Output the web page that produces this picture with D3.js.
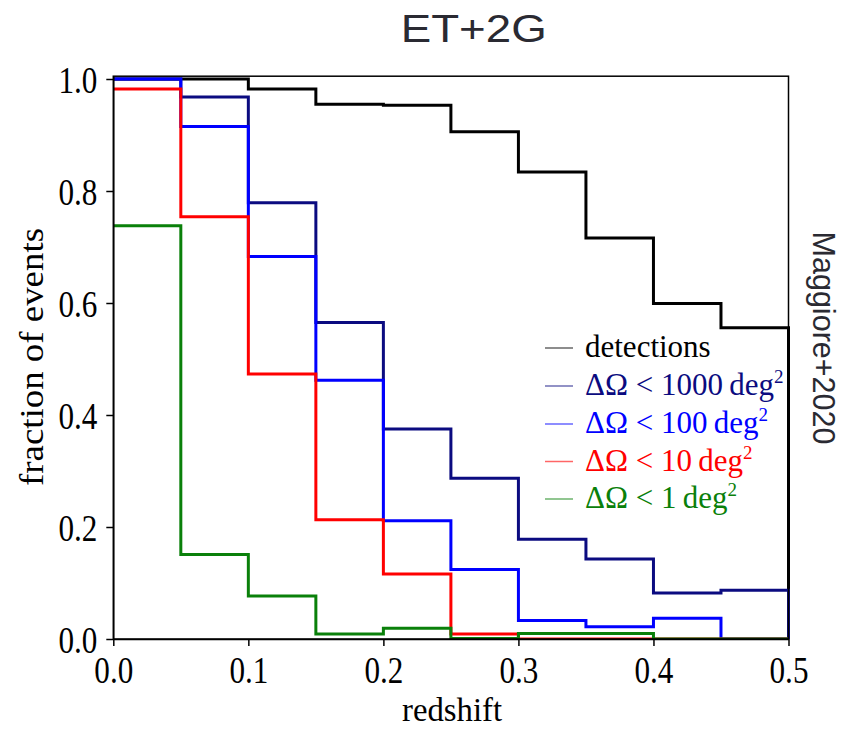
<!DOCTYPE html>
<html>
<head>
<meta charset="utf-8">
<script src="https://cdn.jsdelivr.net/npm/d3@7"></script>
<style>
  html, body { margin: 0; padding: 0; background: #fff; }
  svg { display: block; }
</style>
</head>
<body>
<svg id="chart" width="844" height="729"></svg>
<script>
// ---- data ----
const binEdges = [0, 0.05, 0.1, 0.15, 0.2, 0.25, 0.3, 0.35, 0.4, 0.45, 0.5];
const detections = [1.0, 1.0, 0.982, 0.955, 0.953, 0.906, 0.834, 0.716, 0.599, 0.556];
const dOmega1000 = [1.0, 0.968, 0.779, 0.565, 0.375, 0.287, 0.178, 0.143, 0.082, 0.087];
const dOmega100  = [1.0, 0.915, 0.683, 0.462, 0.211, 0.124, 0.033, 0.022, 0.037, 0.0];
const dOmega10   = [0.982, 0.754, 0.473, 0.213, 0.116, 0.009, 0.0, 0.0, 0.0, 0.0];
const dOmega1    = [0.738, 0.151, 0.077, 0.009, 0.019, 0.001, 0.010, 0.010, 0.0, 0.0];
const seriesNames = ["detections", "1000", "100", "10", "1"];
const xTickValues = [0, 0.1, 0.2, 0.3, 0.4, 0.5];
const yTickValues = [0, 0.2, 0.4, 0.6, 0.8, 1.0];
const titleText = "ET+2G";
const sideText = "Maggiore+2020";
const xLabel = "redshift";
const yLabel = "fraction of events";

const series = [
  { name: "detections", values: detections, color: "#000000", legendColor: "#000000" },
  { name: "1000", values: dOmega1000, color: "#0b0b80", legendColor: "#0b0b80" },
  { name: "100", values: dOmega100, color: "#0000ff", legendColor: "#0000ff" },
  { name: "10", values: dOmega10, color: "#ff0000", legendColor: "#ff0000" },
  { name: "1", values: dOmega1, color: "#0a800a", legendColor: "#0a800a" }
];

// ---- layout ----
const svg = d3.select("#chart");
const pLeft = 113.3, pRight = 788.5, pTop = 76.2, pBottom = 639;
const x = d3.scaleLinear().domain([0, 0.5]).range([pLeft, pRight]);
const y = d3.scaleLinear().domain([0, 1.005]).range([pBottom, pTop]);

const serif = "'Liberation Serif', 'DejaVu Serif', serif";
const sans = "'Liberation Sans', Arial, sans-serif";

// ---- step histograms ----
function stepPath(vals) {
  const pts = [];
  vals.forEach((v, i) => {
    pts.push([binEdges[i], v]);
    pts.push([binEdges[i + 1], v]);
  });
  pts.push([binEdges[binEdges.length - 1], 0]);
  return d3.line().x(d => x(d[0])).y(d => y(d[1]))(pts);
}

svg.append("defs").append("clipPath").attr("id", "clip")
  .append("rect").attr("x", pLeft).attr("y", pTop - 3)
  .attr("width", pRight - pLeft + 4).attr("height", pBottom - pTop + 4);

const lines = svg.append("g").attr("clip-path", "url(#clip)");
series.forEach(s => {
  lines.append("path")
    .attr("d", stepPath(s.values))
    .attr("fill", "none")
    .attr("stroke", s.color)
    .attr("stroke-width", 3)
    .attr("stroke-linejoin", "miter");
});

// ---- frame ----
svg.append("rect")
  .attr("x", pLeft).attr("y", pTop)
  .attr("width", pRight - pLeft).attr("height", pBottom - pTop)
  .attr("fill", "none").attr("stroke", "#000").attr("stroke-width", 1.5);

// ---- axes ----
const xAxis = svg.append("g")
  .attr("transform", `translate(0,${pBottom})`)
  .call(d3.axisBottom(x).tickValues(xTickValues).tickFormat(d3.format(".1f")).tickSize(7).tickSizeOuter(0));
xAxis.select(".domain").attr("stroke-width", 1.5);
xAxis.selectAll(".tick line").attr("stroke-width", 1.5);
xAxis.selectAll(".tick text")
  .attr("font-family", serif).attr("font-size", 38).attr("fill", "#000")
  .attr("y", 44).attr("dy", null)
  .attr("transform", "scale(0.82,1)");

const yAxis = svg.append("g")
  .attr("transform", `translate(${pLeft},0)`)
  .call(d3.axisLeft(y).tickValues(yTickValues).tickFormat(d3.format(".1f")).tickSize(7).tickSizeOuter(0));
yAxis.select(".domain").attr("stroke-width", 1.5);
yAxis.selectAll(".tick line").attr("stroke-width", 1.5);
yAxis.selectAll(".tick text")
  .attr("font-family", serif).attr("font-size", 38).attr("fill", "#000")
  .attr("x", -16 / 0.82).attr("dy", null).attr("y", 13.5)
  .attr("transform", "scale(0.82,1)");

// ---- labels ----
svg.append("text")
  .attr("x", 452).attr("y", 721)
  .attr("text-anchor", "middle")
  .attr("font-family", serif).attr("font-size", 34)
  .attr("textLength", 100).attr("lengthAdjust", "spacingAndGlyphs")
  .text(xLabel);

svg.append("text")
  .attr("transform", "translate(43,357) rotate(-90)")
  .attr("text-anchor", "middle")
  .attr("font-family", serif).attr("font-size", 34)
  .attr("textLength", 258).attr("lengthAdjust", "spacingAndGlyphs")
  .text(yLabel);

svg.append("text")
  .attr("x", 473.7).attr("y", 41.7)
  .attr("text-anchor", "middle")
  .attr("font-family", sans).attr("font-size", 38.5).attr("fill", "#2a2a32")
  .attr("textLength", 146).attr("lengthAdjust", "spacingAndGlyphs")
  .text(titleText);

svg.append("text")
  .attr("transform", "translate(813,338) rotate(90)")
  .attr("text-anchor", "middle")
  .attr("font-family", sans).attr("font-size", 30.5).attr("fill", "#2a2a32")
  .attr("textLength", 213).attr("lengthAdjust", "spacingAndGlyphs")
  .text(sideText);

// ---- legend ----
const legend = svg.append("g");
const rowBase = [357, 395, 433, 470.5, 508];
series.forEach((s, i) => {
  const by = rowBase[i];
  legend.append("line")
    .attr("x1", 545).attr("x2", 573)
    .attr("y1", by - 9).attr("y2", by - 9)
    .attr("stroke", s.legendColor).attr("stroke-opacity", 0.6).attr("stroke-width", 1.5);
  const t = legend.append("text")
    .attr("x", 585).attr("y", by)
    .attr("font-family", serif).attr("font-size", 31)
    .attr("fill", s.legendColor);
  if (s.name === "detections") {
    t.text("detections");
  } else {
    t.append("tspan").text("\u0394\u03A9 < " + s.name + "\u2009deg");
    t.append("tspan").attr("font-size", 19).attr("dy", -12).text("2");
  }
});
</script>
</body>
</html>
